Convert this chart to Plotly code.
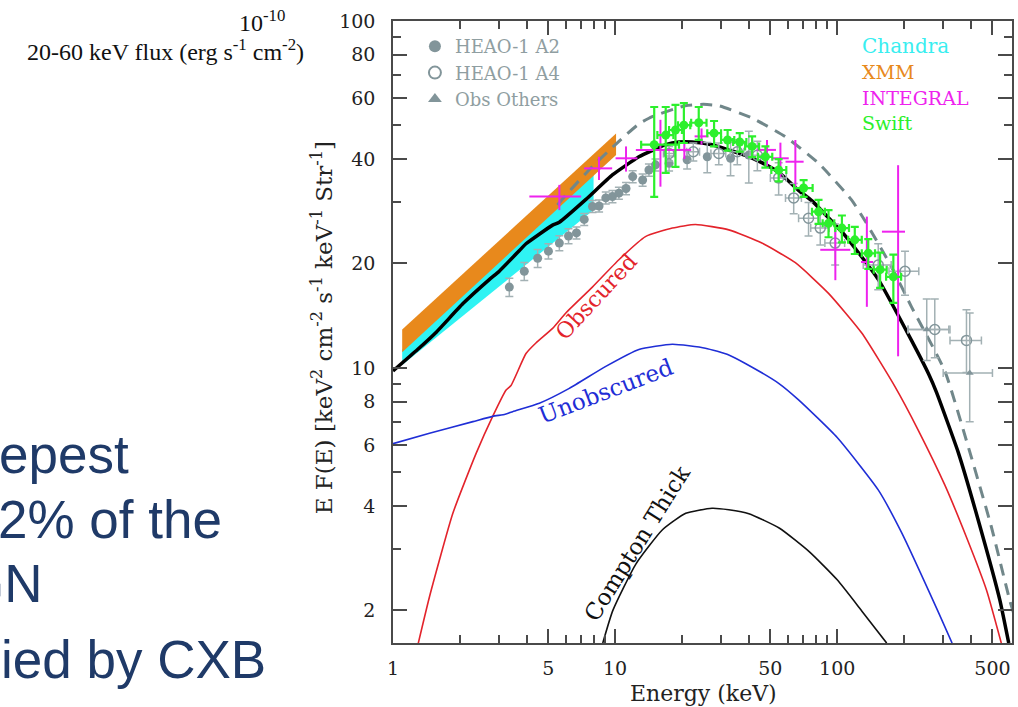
import plotly.graph_objects as go

# ---------------- data ----------------
# total model (solid black)
tot_E = [1.0, 1.29, 1.57, 2.06, 2.72, 3.01, 3.71, 3.97, 5.23, 5.61, 7.39, 9.72, 12.8, 16.9, 19.4, 22.2, 27.3,
         32.5, 38.6, 46.0, 55.0, 67.0, 77.0, 109, 153, 216, 258, 280, 351, 431, 540, 592]
tot_F = [9.8, 11.3, 12.7, 15.3, 18.0, 19.0, 21.8, 22.8, 25.8, 26.3, 30.6, 36.0, 40.6, 44.0, 44.8, 44.8, 44.0,
         42.5, 41.0, 39.0, 36.5, 32.5, 30.3, 24.0, 18.0, 12.0, 9.6, 8.5, 5.7, 3.65, 2.14, 1.61]
# alternative normalisation (dashed grey)
alt_E = [5.5, 6.22, 7.88, 10.4, 12.8, 14.7, 20.7, 25.0, 29.3, 41.4, 58.4, 82.4, 116, 133.6, 176, 216, 305,
         389, 494, 598, 625]
alt_F = [29.5, 32.3, 38.0, 45.0, 50.5, 53.0, 57.0, 57.5, 57.0, 52.5, 46.4, 38.9, 30.5, 26.5, 19.5, 15.0, 9.8,
         5.93, 3.49, 2.14, 1.95]
# obscured (red)
obs_E = [1.30, 1.46, 1.86, 2.37, 2.81, 3.23, 3.40, 3.97, 4.4, 5.23, 6.0, 7.9, 10.4, 13.7, 18.1, 23.0, 32.5,
         45.8, 64.8, 91.4, 129, 182, 231.5, 305, 382, 470, 548]
obs_F = [1.61, 2.19, 3.81, 5.68, 7.25, 8.64, 8.9, 11.0, 11.8, 13.0, 14.4, 17.1, 20.5, 23.9, 25.3, 25.9, 25.0,
         22.9, 20.1, 16.4, 12.6, 8.83, 6.62, 4.6, 3.25, 2.29, 1.61]
# unobscured (blue)
uno_E = [1.0, 1.46, 2.29, 2.81, 3.20, 3.46, 4.56, 6.22, 9.08, 12.8, 18.1, 25.5, 32.5, 38.6, 54.5, 67, 100,
         153, 195, 285, 329]
uno_F = [6.05, 6.48, 7.0, 7.25, 7.35, 7.48, 7.91, 8.73, 10.1, 11.3, 11.7, 11.4, 10.9, 10.3, 9.03, 8.09, 6.3,
         4.45, 3.35, 1.98, 1.61]
# Compton thick (thin black)
ctk_E = [8.8, 9.77, 12.4, 16.3, 20.8, 27.3, 32.5, 40, 55, 75, 100, 130, 167]
ctk_F = [1.61, 2.0, 2.72, 3.41, 3.81, 3.94, 3.9, 3.8, 3.45, 2.95, 2.45, 1.98, 1.61]

# Chandra / XMM bands: energies of the two ends, lower & upper bounds
cha_E = [1.1, 8.0]
cha_lo = [10.2, 28.5]
cha_hi = [11.3, 36.5]
xmm_E = [1.1, 10.1]
xmm_lo = [11.1, 41.1]
xmm_hi = [12.9, 47.4]

# HEAO-1 A2 (filled circles)
a2_E = [3.34, 3.90, 4.48, 5.01, 5.61, 6.17, 6.70, 7.26, 7.91, 8.47, 9.08, 9.73, 10.4, 11.2, 12.0, 13.3, 14.2,
        15.2, 17.5, 21.1, 26.0, 33.1, 40.0]
a2_F = [17.1, 19.0, 20.7, 21.7, 22.9, 24.0, 24.5, 26.8, 29.2, 29.3, 30.9, 31.2, 31.9, 32.9, 35.6, 34.8, 37.2,
        38.5, 38.9, 39.8, 40.6, 40.2, 41.1]
a2_relerr = [0.06, 0.06, 0.06, 0.05, 0.05, 0.05, 0.04, 0.04, 0.04, 0.04, 0.04, 0.04, 0.04, 0.04, 0.04, 0.04,
             0.04, 0.04, 0.05, 0.06, 0.10, 0.11, 0.17]
# HEAO-1 A4 (open circles)
a4_E = [17.5, 22.5, 29.3, 35.5, 43.7, 54.5, 63.7, 74.3, 83.9, 97.9, 153, 202, 275, 382]
a4_F = [41.5, 42.0, 41.5, 42.0, 41.0, 35.3, 30.9, 27.0, 25.3, 22.9, 19.8, 19.0, 12.9, 12.0]
a4_hi = [43.5, 44.5, 44.5, 45.5, 45.0, 39.0, 34.0, 30.0, 28.0, 26.0, 22.8, 21.7, 15.8, 14.7]
a4_lo = [39.5, 39.5, 38.5, 38.5, 37.0, 31.5, 27.8, 24.0, 22.6, 19.8, 16.8, 16.2, 10.7, 9.7]
a4_Elo = [16.5, 21.0, 27.0, 33.0, 40.5, 50.0, 58.5, 67.0, 76.0, 88.0, 131, 171, 208, 322]
a4_Ehi = [18.5, 24.0, 31.5, 38.0, 47.0, 59.0, 69.0, 82.0, 92.0, 108, 175, 233, 322, 446]
# other observations (small triangles)
ot_E = [253, 395]
ot_F = [12.9, 9.66]
ot_hi = [15.8, 14.4]
ot_lo = [10.5, 7.0]
ot_Elo = [209, 300]
ot_Ehi = [318, 500]

# Swift (green)
sw_E = [15.0, 16.9, 18.7, 20.4, 23.8, 27.9, 32.1, 36.4, 41.4, 47.5, 54.5, 70.6, 82.4, 91.4, 105, 120, 138, 156, 179]
sw_F = [44.0, 46.9, 48.5, 50.1, 50.9, 47.5, 45.4, 44.8, 43.5, 40.6, 37.2, 33.0, 28.2, 26.1, 25.3, 23.4, 21.4, 19.2, 18.3]
sw_hi = [56.5, 56.5, 57.3, 58.0, 56.5, 51.5, 48.5, 47.5, 46.5, 43.5, 40.0, 34.8, 30.5, 28.5, 27.5, 25.5, 23.5, 21.5, 21.2]
sw_lo = [31.1, 36.5, 38.0, 44.5, 45.4, 43.5, 42.3, 42.0, 40.5, 37.8, 34.5, 31.1, 26.0, 23.8, 23.0, 21.3, 19.3, 17.0, 15.4]
sw_Elo = [13.1, 15.5, 17.5, 19.2, 22.0, 26.0, 30.0, 34.0, 38.5, 44.0, 50.5, 64.0, 77.0, 86.0, 98.0, 112, 129, 146, 166]
sw_Ehi = [19.4, 18.3, 20.0, 21.8, 25.8, 30.0, 34.4, 39.0, 44.5, 51.0, 59.0, 77.5, 88.0, 97.0, 113, 129, 148, 167, 194]

# INTEGRAL (magenta crosses)
in_E = [5.61, 8.46, 11.2, 16.0, 20.5, 24.5, 48.3, 55.5, 64.8, 98.1, 136, 188]
in_F = [31.2, 37.6, 40.2, 42.5, 42.5, 46.5, 42.5, 40.2, 39.3, 21.9, 20.2, 24.7]
in_hi = [33.7, 40.6, 43.5, 51.9, 45.0, 49.0, 45.4, 44.6, 45.4, 25.0, 27.3, 38.4]
in_lo = [28.5, 34.8, 36.8, 33.3, 40.0, 44.0, 38.1, 35.4, 32.6, 17.9, 15.0, 10.8]
in_Elo = [4.11, 7.25, 10.05, 12.4, 19.0, 22.8, 43.5, 51.0, 58.5, 83.9, 128, 159]
in_Ehi = [7.03, 9.7, 12.6, 19.7, 22.0, 26.3, 53.0, 60.5, 70.6, 114.5, 145, 202]

# axis ticks
x_major = [1, 5, 10, 50, 100, 500]
x_major_txt = ["1", "5", "10", "50", "100", "500"]
x_minor = [2, 3, 4, 6, 7, 8, 9, 20, 30, 40, 60, 70, 80, 90, 200, 300, 400]
y_major = [2, 4, 6, 8, 10, 20, 40, 60, 80, 100]
y_major_txt = ["2", "4", "6", "8", "10", "20", "40", "60", "80", "100"]
y_minor = [3, 5, 7, 9, 30, 50, 70, 90]

# ---------------- figure ----------------
SERIF = "DejaVu Serif"
GREY = "#82959a"
GREY_ERR = "#a3b1b4"
GREEN = "#2cf02c"
MAGENTA = "#ee22ee"
CYAN = "#2ff3f3"
ORANGE = "#e8891c"

fig = go.Figure()


def band(E, lo, hi):
    return [E[0], E[1], E[1], E[0], E[0]], [lo[0], lo[1], hi[1], hi[0], lo[0]]


bx, by = band(cha_E, cha_lo, cha_hi)
fig.add_trace(go.Scatter(x=bx, y=by, mode="lines", fill="toself", fillcolor=CYAN,
                         line=dict(width=0, color=CYAN), showlegend=False, hoverinfo="skip"))
bx, by = band(xmm_E, xmm_lo, xmm_hi)
fig.add_trace(go.Scatter(x=bx, y=by, mode="lines", fill="toself", fillcolor=ORANGE,
                         line=dict(width=0, color=ORANGE), showlegend=False, hoverinfo="skip"))

fig.add_trace(go.Scatter(x=obs_E, y=obs_F, mode="lines", line=dict(color="#e3232b", width=1.6, shape="spline", smoothing=0.5),
                         showlegend=False))
fig.add_trace(go.Scatter(x=uno_E, y=uno_F, mode="lines", line=dict(color="#1f2ed6", width=1.6, shape="spline", smoothing=0.5),
                         showlegend=False))
fig.add_trace(go.Scatter(x=ctk_E, y=ctk_F, mode="lines", line=dict(color="#111111", width=1.6, shape="spline", smoothing=0.5),
                         showlegend=False))
fig.add_trace(go.Scatter(x=alt_E, y=alt_F, mode="lines",
                         line=dict(color="#71878a", width=3, dash="12px,8px", shape="spline", smoothing=0.5),
                         showlegend=False))
fig.add_trace(go.Scatter(x=tot_E, y=tot_F, mode="lines", line=dict(color="#000000", width=3.5, shape="spline", smoothing=0.4),
                         showlegend=False))

# grey data with legend entries
a2_err = [f * r for f, r in zip(a2_F, a2_relerr)]
a2_xerr = [e * 0.035 for e in a2_E]
fig.add_trace(go.Scatter(
    x=a2_E, y=a2_F, mode="markers", name="HEAO-1 A2",
    marker=dict(symbol="circle", size=9, color=GREY),
    error_y=dict(type="data", array=a2_err, color=GREY_ERR, thickness=1.5, width=4),
    error_x=dict(type="data", array=a2_xerr, color=GREY_ERR, thickness=1.5, width=0)))
fig.add_trace(go.Scatter(
    x=a4_E, y=a4_F, mode="markers", name="HEAO-1 A4",
    marker=dict(symbol="circle-open", size=10, color=GREY, line=dict(width=1.5)),
    error_y=dict(type="data", array=[h - f for h, f in zip(a4_hi, a4_F)],
                 arrayminus=[f - l for f, l in zip(a4_F, a4_lo)], color=GREY_ERR, thickness=1.5, width=4),
    error_x=dict(type="data", array=[h - e for h, e in zip(a4_Ehi, a4_E)],
                 arrayminus=[e - l for e, l in zip(a4_E, a4_Elo)], color=GREY_ERR, thickness=1.5, width=4)))
fig.add_trace(go.Scatter(
    x=ot_E, y=ot_F, mode="markers", name="Obs Others",
    marker=dict(symbol="triangle-up", size=7, color=GREY),
    error_y=dict(type="data", array=[h - f for h, f in zip(ot_hi, ot_F)],
                 arrayminus=[f - l for f, l in zip(ot_F, ot_lo)], color=GREY_ERR, thickness=1.5, width=4),
    error_x=dict(type="data", array=[h - e for h, e in zip(ot_Ehi, ot_E)],
                 arrayminus=[e - l for e, l in zip(ot_E, ot_Elo)], color=GREY_ERR, thickness=1.5, width=4)))

# INTEGRAL crosses
fig.add_trace(go.Scatter(
    x=in_E, y=in_F, mode="markers", marker=dict(size=1, color=MAGENTA), showlegend=False,
    error_y=dict(type="data", array=[h - f for h, f in zip(in_hi, in_F)],
                 arrayminus=[f - l for f, l in zip(in_F, in_lo)], color=MAGENTA, thickness=2, width=0),
    error_x=dict(type="data", array=[h - e for h, e in zip(in_Ehi, in_E)],
                 arrayminus=[e - l for e, l in zip(in_E, in_Elo)], color=MAGENTA, thickness=2, width=0)))

# Swift
fig.add_trace(go.Scatter(
    x=sw_E, y=sw_F, mode="markers", marker=dict(symbol="circle", size=9, color=GREEN), showlegend=False,
    error_y=dict(type="data", array=[h - f for h, f in zip(sw_hi, sw_F)],
                 arrayminus=[f - l for f, l in zip(sw_F, sw_lo)], color=GREEN, thickness=2.2, width=4),
    error_x=dict(type="data", array=[h - e for h, e in zip(sw_Ehi, sw_E)],
                 arrayminus=[e - l for e, l in zip(sw_E, sw_Elo)], color=GREEN, thickness=2.2, width=4)))

# ---------------- layout ----------------
L, R, T, B = 393, 1014, 21, 643


def px(xp):
    return (xp - L) / (R - L)


def py(yp):
    return (B - yp) / (B - T)


AX = "#4a4a4a"
axis_common = dict(type="log", showline=True, linecolor=AX, linewidth=1.5, mirror="ticks",
                   ticks="inside", ticklen=14, tickwidth=1.5, tickcolor=AX, showgrid=False, zeroline=False,
                   tickfont=dict(family=SERIF, size=19, color="#222222"))

fig.update_layout(
    width=1018, height=707,
    margin=dict(l=L, r=1018 - R, t=T, b=707 - B),
    paper_bgcolor="white", plot_bgcolor="white",
    xaxis=dict(axis_common, range=[0, 2.787], tickmode="array", tickvals=x_major, ticktext=x_major_txt,
               ticklabelstandoff=7,
               minor=dict(tickmode="array", tickvals=x_minor, ticks="inside", ticklen=8, tickwidth=1.5,
                          tickcolor=AX, showgrid=False)),
    yaxis=dict(axis_common, range=[0.207, 2.0], tickmode="array", tickvals=y_major, ticktext=y_major_txt,
               ticklabelstandoff=12,
               minor=dict(tickmode="array", tickvals=y_minor, ticks="inside", ticklen=8, tickwidth=1.5,
                          tickcolor=AX, showgrid=False)),
    showlegend=True,
    legend=dict(x=px(415), y=py(28), xanchor="left", yanchor="top", bgcolor="rgba(0,0,0,0)",
                font=dict(family=SERIF, size=18, color="#8f9ea1"), tracegroupgap=0, itemsizing="constant"),
)

ann = []


def add_text(text, x, y, size, color, family=SERIF, angle=0, xanchor="center"):
    ann.append(dict(text=text, x=px(x), y=py(y), xref="paper", yref="paper", showarrow=False,
                    font=dict(family=family, size=size, color=color), textangle=angle,
                    xanchor=xanchor, yanchor="middle"))


# axis titles
add_text("E F(E) [keV<sup>2</sup> cm<sup>-2</sup> s<sup>-1</sup> keV<sup>-1</sup> Str<sup>-1</sup>]",
         322, 328, 23, "#222222", angle=-90)
add_text("Energy (keV)", 705, 693, 22, "#222222")

# curve labels
add_text("Obscured", 597, 296, 22, "#e3232b", angle=-47)
add_text("Unobscured", 607, 391, 23, "#1f2ed6", angle=-21)
add_text("Compton Thick", 638, 543, 23, "#111111", angle=-58)

# coloured instrument labels
add_text("Chandra", 862, 46, 20, "#38eef0", xanchor="left")
add_text("XMM", 862, 72, 19, ORANGE, xanchor="left")
add_text("INTEGRAL", 862, 98, 19, MAGENTA, xanchor="left")
add_text("Swift", 862, 123, 19, GREEN, xanchor="left")

# slide text around the chart
add_text("10<sup>-10</sup>", 262, 21, 24, "#111111", family="Liberation Serif")
add_text("20-60 keV flux (erg s<sup>-1</sup> cm<sup>-2</sup>)", 165, 50, 24, "#111111", family="Liberation Serif")
SLIDE = "#1f3a68"
add_text("epest", 130, 454, 53, SLIDE, family="Liberation Sans", xanchor="right")
add_text("2% of the", 223, 519, 53, SLIDE, family="Liberation Sans", xanchor="right")
add_text("GN", 44, 583, 53, SLIDE, family="Liberation Sans", xanchor="right")
add_text("ied by CXB", 268, 659, 53, SLIDE, family="Liberation Sans", xanchor="right")

fig.update_layout(annotations=ann)

fig.write_html("out.html")
